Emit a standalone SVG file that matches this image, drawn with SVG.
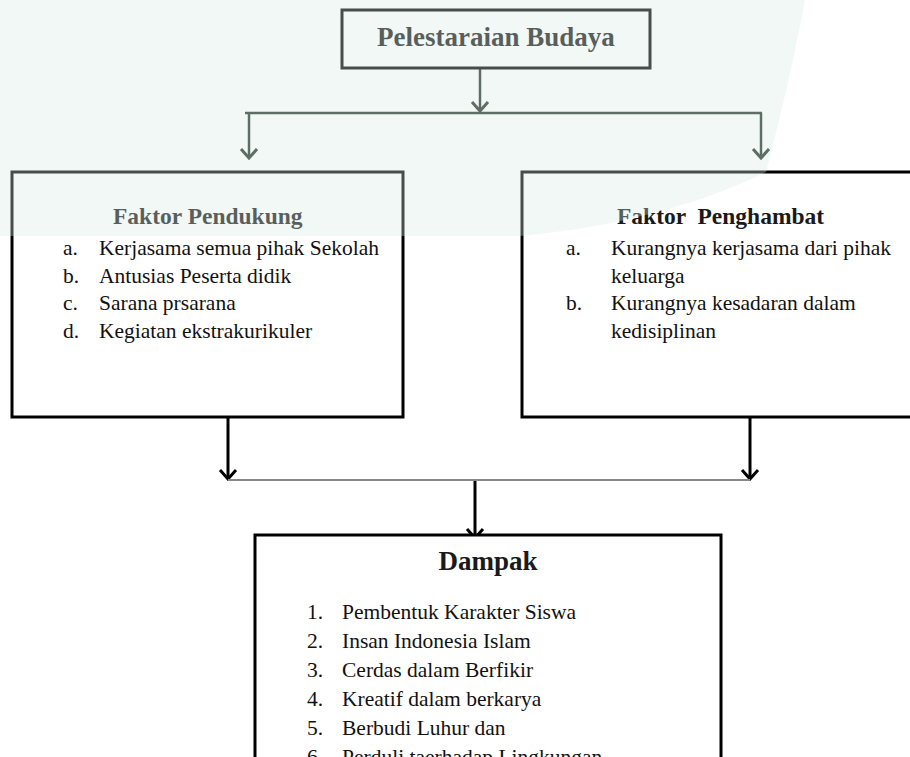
<svg xmlns="http://www.w3.org/2000/svg" width="910" height="757" viewBox="0 0 910 757">
  <defs>
    <style>
      .box { fill: #ffffff; stroke: #000000; stroke-width: 3; }
      .title { font-family: "Liberation Serif", "Times New Roman", serif; font-weight: bold; fill: #1a1a1a; }
      .item { font-family: "Liberation Serif", "Times New Roman", serif; font-size: 21.5px; fill: #111111; }
      .conn { fill: none; stroke: #000000; stroke-width: 3; }
      .thin { fill: none; stroke: #888888; stroke-width: 2; }
      .top { fill: none; stroke: #24302c; stroke-width: 2.5; }
    </style>
    <marker id="arrowDark" viewBox="-12 -10 14 20" refX="0" refY="0" markerWidth="14" markerHeight="20" markerUnits="userSpaceOnUse" orient="auto">
      <path d="M-9,-8 L0,0 L-9,8" fill="none" stroke="#24302c" stroke-width="3"/>
    </marker>
    <marker id="arrowBlack" viewBox="-12 -10 14 20" refX="0" refY="0" markerWidth="14" markerHeight="20" markerUnits="userSpaceOnUse" orient="auto">
      <path d="M-9,-8 L0,0 L-9,8" fill="none" stroke="#000000" stroke-width="3"/>
    </marker>
  </defs>

  <rect x="0" y="0" width="910" height="757" fill="#ffffff"/>

  <g id="connectors">
    <line class="top" x1="480" y1="68" x2="480" y2="111" marker-end="url(#arrowDark)"/>
    <line class="top" x1="245" y1="113" x2="762" y2="113" stroke-width="2"/>
    <line class="top" x1="249" y1="113" x2="249" y2="158" marker-end="url(#arrowDark)"/>
    <line class="top" x1="761" y1="113" x2="761" y2="158" marker-end="url(#arrowDark)"/>
    <line class="conn" x1="228" y1="417" x2="228" y2="479" marker-end="url(#arrowBlack)"/>
    <line class="conn" x1="750" y1="417" x2="750" y2="479" marker-end="url(#arrowBlack)"/>
    <line class="thin" x1="228" y1="480" x2="750" y2="480"/>
    <line class="conn" x1="475" y1="481" x2="475" y2="538" marker-end="url(#arrowBlack)"/>
  </g>

  <g id="node-pelestarian">
    <rect class="box" x="342" y="10" width="308" height="58"/>
    <text class="title" x="496" y="46" font-size="27" text-anchor="middle">Pelestaraian Budaya</text>
  </g>

  <g id="node-pendukung">
    <rect class="box" x="12" y="172" width="391" height="245"/>
    <text class="title" x="113" y="224" font-size="23.5">Faktor Pendukung</text>
    <text class="item" x="63" y="255">a.</text>
    <text class="item" x="99" y="255">Kerjasama semua pihak Sekolah</text>
    <text class="item" x="63" y="282.5">b.</text>
    <text class="item" x="99" y="282.5">Antusias Peserta didik</text>
    <text class="item" x="63" y="310">c.</text>
    <text class="item" x="99" y="310">Sarana prsarana</text>
    <text class="item" x="63" y="337.5">d.</text>
    <text class="item" x="99" y="337.5">Kegiatan ekstrakurikuler</text>
  </g>

  <g id="node-penghambat">
    <rect class="box" x="522" y="172" width="400" height="245"/>
    <text class="title" x="617" y="224" font-size="23.5" style="white-space:pre">Faktor  Penghambat</text>
    <text class="item" x="566" y="255">a.</text>
    <text class="item" x="611" y="255">Kurangnya kerjasama dari pihak</text>
    <text class="item" x="611" y="282.5">keluarga</text>
    <text class="item" x="566" y="310">b.</text>
    <text class="item" x="611" y="310">Kurangnya kesadaran dalam</text>
    <text class="item" x="611" y="337.5">kedisiplinan</text>
  </g>

  <g id="node-dampak">
    <rect class="box" x="255" y="535" width="466" height="240" stroke-width="3.5"/>
    <text class="title" x="488" y="570" font-size="27" text-anchor="middle">Dampak</text>
    <text class="item" x="307" y="619">1.</text>
    <text class="item" x="342" y="619">Pembentuk Karakter Siswa</text>
    <text class="item" x="307" y="648">2.</text>
    <text class="item" x="342" y="648">Insan Indonesia Islam</text>
    <text class="item" x="307" y="677">3.</text>
    <text class="item" x="342" y="677">Cerdas dalam Berfikir</text>
    <text class="item" x="307" y="706">4.</text>
    <text class="item" x="342" y="706">Kreatif dalam berkarya</text>
    <text class="item" x="307" y="735">5.</text>
    <text class="item" x="342" y="735">Berbudi Luhur dan</text>
    <text class="item" x="307" y="764">6.</text>
    <text class="item" x="342" y="764">Perduli taerhadap Lingkungan</text>
  </g>

  <path id="watermark-tint" d="M0,0 H805 C792,70 778,125 766,172 C700,205 610,228 520,236 L0,236 Z" fill="#d9ebe2" opacity="0.33"/>
</svg>
